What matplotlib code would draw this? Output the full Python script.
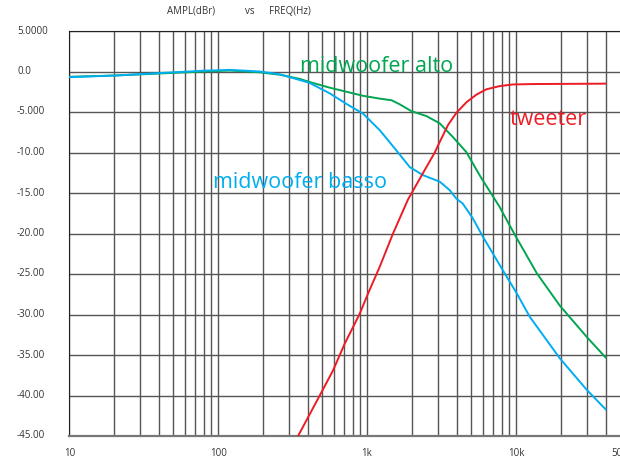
import numpy as np
import matplotlib
matplotlib.use("Agg")
import matplotlib.pyplot as plt
from matplotlib.transforms import blended_transform_factory

plt.rcParams['font.family'] = ['Open Sans', 'DejaVu Sans']

# values (Hz, dB)
alto_freq = [10, 20, 40, 80, 120, 190, 260, 350, 430, 562, 727, 940, 1217, 1460, 1657, 1986,
             2505, 3077, 3776, 4645, 5700, 5970, 7760, 8650, 10000, 13800, 19700, 30000, 40000]
alto_db = [-0.65, -0.5, -0.25, 0.0, 0.12, -0.1, -0.4, -0.9, -1.4, -2.0, -2.5, -3.0, -3.35, -3.55, -4.05, -4.9,
           -5.5, -6.4, -8.1, -9.95, -12.8, -13.4, -16.7, -18.3, -20.4, -24.9, -28.9, -32.8, -35.3]

basso_freq = [10, 20, 40, 80, 120, 190, 260, 290, 410, 562, 727, 940, 1217, 1575, 1935, 2376,
              3077, 3590, 3981, 4390, 5120, 6000, 8140, 10100, 12400, 19700, 29900, 40000]
basso_db = [-0.7, -0.5, -0.2, 0.1, 0.2, 0.0, -0.35, -0.6, -1.4, -2.7, -4.0, -5.2, -7.25, -9.75, -11.8, -12.8,
            -13.6, -14.65, -15.7, -16.3, -18.1, -20.4, -24.5, -27.35, -30.3, -35.4, -39.3, -41.7]

tweeter_freq = [344, 481, 591, 708, 893, 1016, 1217, 1494, 1884, 2365, 2850, 3077, 3500, 3980,
                4650, 5430, 6330, 7780, 9550, 12940, 40000]
tweeter_db = [-45.0, -40.0, -36.9, -33.6, -29.9, -27.4, -24.1, -20.0, -15.8, -12.6, -10.0, -8.7, -6.6, -5.1,
              -3.8, -2.85, -2.2, -1.8, -1.6, -1.55, -1.5]

y_ticks = [5, 0, -5, -10, -15, -20, -25, -30, -35, -40, -45]
y_labels = ["5.0000", "0.0", "-5.000", "-10.00", "-15.00", "-20.00", "-25.00",
            "-30.00", "-35.00", "-40.00", "-45.00"]
x_ticks = [10, 100, 1000, 10000, 50000]
x_labels = ["10", "100", "1k", "10k", "50k"]

green = '#00a651'
blue = '#00aeef'
red = '#ed1c24'

W, H = 620, 462
fig = plt.figure(figsize=(6.2, 4.62), dpi=100)
ax = fig.add_axes([69.3 / W, 1 - 436 / H, (W - 69.3) / W, 405 / H])
ax.set_xscale('log')
ax.set_xlim(10, 50000)
ax.set_ylim(-45, 5)

# grid: every 1..9 per decade, every 5 dB
for dec in [10, 100, 1000, 10000]:
    for m in range(1, 10):
        f = dec * m
        if f >= 50000:
            continue
        ax.axvline(f, color='#555555', lw=1.0, zorder=1)
for yv in y_ticks:
    ax.axhline(yv, color='#555555', lw=1.0, zorder=1)

ax.plot(alto_freq, alto_db, color=green, lw=1.4, zorder=3)
ax.plot(basso_freq, basso_db, color=blue, lw=1.4, zorder=3)
ax.plot(tweeter_freq, tweeter_db, color=red, lw=1.4, zorder=3)

ax.spines['right'].set_visible(False)
ax.spines['left'].set_color('#222222')
ax.spines['top'].set_color('#222222')
ax.spines['bottom'].set_color('#777777')
ax.spines['bottom'].set_linewidth(1.6)

ax.set_xticks(x_ticks)
ax.set_xticklabels(x_labels, fontsize=7, color='#333333')
ax.xaxis.set_minor_locator(matplotlib.ticker.NullLocator())
ax.tick_params(axis='x', length=0, pad=9)
ax.set_yticks([])

tr = blended_transform_factory(fig.transFigure, ax.transData)
for yv, lab in zip(y_ticks, y_labels):
    fig.text(17 / W, yv, lab, transform=tr, ha='left', va='center', fontsize=7, color='#333333')

fig.text(167 / W, 1 - 11 / H, "AMPL(dBr)", ha='left', va='center', fontsize=7, color='#333333')
fig.text(250 / W, 1 - 11 / H, "vs", ha='center', va='center', fontsize=7, color='#333333')
fig.text(269 / W, 1 - 11 / H, "FREQ(Hz)", ha='left', va='center', fontsize=7, color='#333333')

fig.text(300 / W, 1 - 71.7 / H, "midwoofer alto", ha='left', va='baseline', fontsize=15.5, color=green)
fig.text(213 / W, 1 - 187.7 / H, "midwoofer basso", ha='left', va='baseline', fontsize=15.5, color=blue)
fig.text(510 / W, 1 - 125 / H, "tweeter", ha='left', va='baseline', fontsize=15.5, color=red)

fig.savefig("out.png", dpi=100)
